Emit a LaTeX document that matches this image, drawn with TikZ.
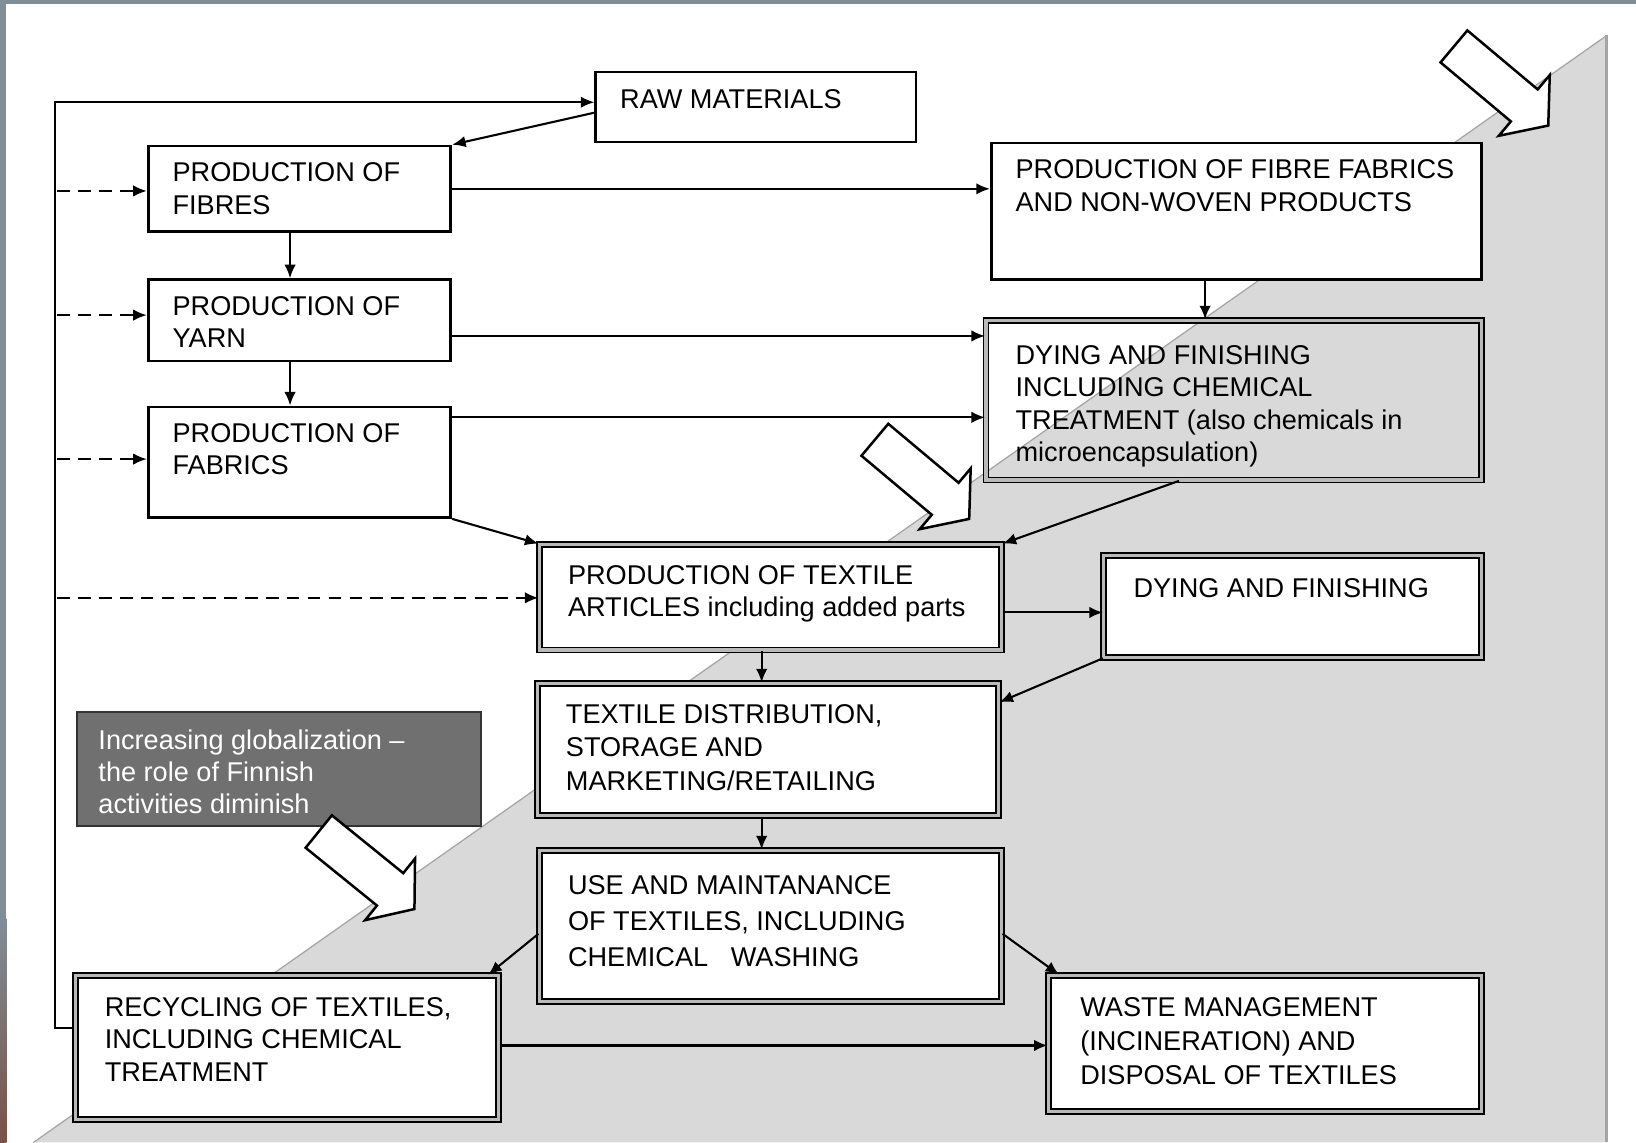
\documentclass[tikz,border=0pt]{standalone}
\usepackage{fontspec}
\setmainfont{Liberation Sans}
\usetikzlibrary{arrows.meta,fit,calc}
\definecolor{wedge}{RGB}{217,217,217}
\definecolor{wedgeline}{RGB}{165,165,165}
\definecolor{framegray}{RGB}{128,142,152}
\definecolor{framebrown}{RGB}{120,80,70}
\definecolor{globfill}{RGB}{112,112,112}
\begin{document}
\begin{tikzpicture}[x=0.5pt,y=-0.5pt,
  box/.style={draw=black,line width=1.3pt,fill=white,inner sep=0pt},
  dbox/.style={draw=black,line width=0.9pt,double=gray!55,double distance=1.5pt,fill=white,inner sep=0pt},
  txt/.style={anchor=north west,inner sep=0pt,align=left,font=\fontsize{13pt}{15.5pt}\selectfont},
  arr/.style={line width=1pt,-{Latex[length=6.5pt,width=5.5pt]}},
  darr/.style={arr,dash pattern=on 6pt off 4pt},
  hollowarrow/.pic={\draw[line width=1.2pt,fill=white,line join=miter]
     (0,-20) -- (88,-20) -- (88,-38) -- (118,0) -- (88,38) -- (88,20) -- (0,20) -- cycle;}
]
\useasboundingbox (0,0) rectangle (1568,1095);
\fill[white] (0,0) rectangle (1568,1095);
% gray wedge
\fill[wedge] (32,1095) -- (1540,34) -- (1540,1095) -- cycle;
\draw[wedgeline,line width=0.6pt] (32,1095) -- (1540,34);
\draw[wedgeline,line width=1.5pt] (1540,34) -- (1540,1095);
% frame strips
\fill[framegray] (0,0) rectangle (1568,4);
\fill[framegray] (0,0) rectangle (6,880);
\shade[top color=framegray,bottom color=framebrown] (0,880) rectangle (6,1095);

% boxes
\node[box,fit={(571,69)(878,136)}] (raw) {};
\node[box,fit={(142,140)(432,222)}] (fibres) {};
\node[box,fit={(142,268)(432,346)}] (yarn) {};
\node[box,fit={(142,390)(432,496)}] (fabrics) {};
\node[box,fit={(950,137)(1420,268)}] (fibfab) {};
\node[dbox,fill=none,fit={(945,307)(1420,460)}] (dyeA) {};
\node[dbox,fit={(517,522)(960,623)}] (textile) {};
\node[dbox,fit={(1058,532)(1420,630)}] (dyeB) {};
\node[dbox,fit={(515,655)(957,782)}] (distr) {};
\node[dbox,fit={(517,815)(960,960)}] (use) {};
\node[dbox,fit={(72,935)(478,1073)}] (recyc) {};
\node[dbox,fit={(1005,935)(1420,1065)}] (waste) {};
\node[draw=black!80,line width=1pt,fill=globfill,inner sep=0pt,fit={(74,682)(461,792)}] (glob) {};

% hollow arrows
\pic[rotate=-40] at (1393.5,44.5) {hollowarrow};
\pic[rotate=-40] at (838.5,421.5) {hollowarrow};
\pic[rotate=-39] at (305.5,797) {hollowarrow};

% texts
\node[txt] (raw-t) at (594,85.7) {RAW MATERIALS};
\node[txt] (fibres-t) at (165,155.7) {PRODUCTION OF\\FIBRES};
\node[txt] (yarn-t) at (165,283.7) {PRODUCTION OF\\YARN};
\node[txt] (fabrics-t) at (165,405.7) {PRODUCTION OF\\FABRICS};
\node[txt] (fibfab-t) at (973,152.7) {PRODUCTION OF FIBRE FABRICS\\AND NON-WOVEN PRODUCTS};
\node[txt] (dyeA-t) at (973,330.7) {DYING AND FINISHING\\INCLUDING CHEMICAL\\TREATMENT (also chemicals in\\microencapsulation)};
\node[txt] (textile-t) at (544,541.7) {PRODUCTION OF TEXTILE\\ARTICLES including added parts};
\node[txt] (dyeB-t) at (1086,553.7) {DYING AND FINISHING};
\node[txt,font=\fontsize{13pt}{16pt}\selectfont] (distr-t) at (542,674.7) {TEXTILE DISTRIBUTION,\\STORAGE AND\\MARKETING/RETAILING};
\node[txt,font=\fontsize{13pt}{17.25pt}\selectfont] (use-t) at (544,838.7) {USE AND MAINTANANCE\\OF TEXTILES, INCLUDING\\CHEMICAL\ \ \ WASHING};
\node[txt] (recyc-t) at (100,955.7) {RECYCLING OF TEXTILES,\\INCLUDING CHEMICAL\\TREATMENT};
\node[txt,font=\fontsize{13pt}{16.25pt}\selectfont] (waste-t) at (1035,955.7) {WASTE MANAGEMENT\\(INCINERATION) AND\\DISPOSAL OF TEXTILES};
\node[txt,text=white] (glob-t) at (94,698.7) {Increasing globalization --\\the role of Finnish\\activities diminish};

% connectors
\coordinate (loop) at (53,98);
\draw[arr] (recyc.west |- 0,985) -| (loop) -- (raw.west |- loop);
\draw[arr] (raw.west |- 0,108) -- (fibres.north east);
\draw[arr] (fibres.east) -- (fibfab.west |- fibres.east);
\draw[arr] (fibres.south -| 278,0) -- (yarn.north -| 278,0);
\draw[arr] (yarn.south -| 278,0) -- (fabrics.north -| 278,0);
\draw[arr] (yarn.east |- 0,322) -- (dyeA.west |- 0,322);
\draw[arr] (fabrics.east |- 0,400) -- (dyeA.west |- 0,400);
\draw[arr] (fabrics.south east) -- (textile.north west);
\draw[arr] (fibfab.south -| 1155,0) -- (dyeA.north -| 1155,0);
\draw[arr] (dyeA.south -| 1130,0) -- (textile.north east);
\draw[arr] (textile.east |- 0,587) -- (dyeB.west |- 0,587);
\draw[arr] (dyeB.south west) -- (distr.east |- 0,673);
\draw[arr] (textile.south -| 730,0) -- (distr.north -| 730,0);
\draw[arr] (distr.south -| 730,0) -- (use.north -| 730,0);
\draw[arr] (use.west |- 0,895) -- (recyc.north -| 468,0);
\draw[arr] (use.east |- 0,895) -- (waste.north -| 1015,0);
\draw[arr] (recyc.east |- 0,1002) -- (waste.west |- 0,1002);
% dashed inputs
\coordinate (d1) at (55,183);
\coordinate (d2) at (55,302);
\coordinate (d3) at (55,440);
\coordinate (d4) at (55,573);
\draw[darr] (d1) -- (fibres.west |- d1);
\draw[darr] (d2) -- (yarn.west |- d2);
\draw[darr] (d3) -- (fabrics.west |- d3);
\draw[darr] (d4) -- (textile.west |- d4);
\end{tikzpicture}
\end{document}
